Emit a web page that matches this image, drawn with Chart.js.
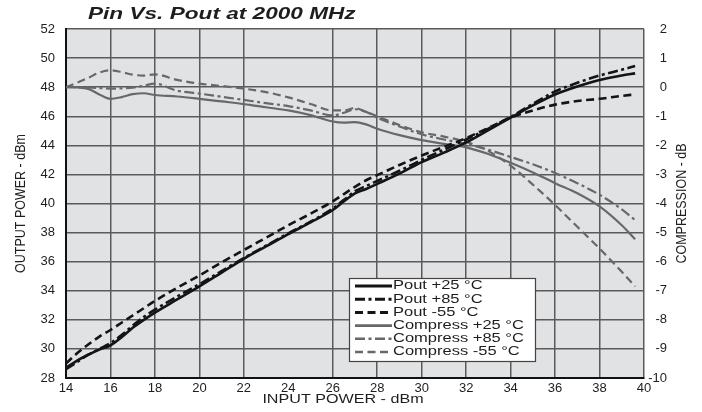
<!DOCTYPE html>
<html><head><meta charset="utf-8">
<script src="https://cdn.jsdelivr.net/npm/chart.js@4.4.1/dist/chart.umd.min.js"></script>
<style>html,body{margin:0;padding:0;background:#fff;overflow:hidden}#wrap{width:702px;height:412px;position:relative}</style>
</head><body><div id="wrap"><canvas id="c" width="702" height="412"></canvas></div>
<script>
// ---- data ----
const inputPower = [14,14.5,15,15.5,16,16.5,17,17.5,18,19,20,21,22,23,24,25,26,26.5,27,27.5,28,29,30,31,32,33,34,35,36,37,38,39,39.6];
const poutP25 = [28.7,29.2,29.6,29.95,30.25,30.8,31.45,32.0,32.5,33.4,34.3,35.25,36.2,37.05,37.9,38.7,39.55,40.15,40.7,41.0,41.35,42.05,42.85,43.5,44.2,45.05,45.9,46.75,47.5,48.05,48.5,48.8,48.95];
const poutP85 = [28.6,29.1,29.6,30.0,30.4,30.95,31.6,32.2,32.7,33.6,34.45,35.35,36.25,37.1,37.95,38.75,39.65,40.25,40.85,41.2,41.55,42.25,43.0,43.7,44.4,45.15,45.95,46.85,47.7,48.3,48.8,49.2,49.45];
const poutM55 = [29.0,29.7,30.3,30.85,31.3,31.8,32.3,32.8,33.3,34.2,35.05,35.95,36.8,37.65,38.5,39.3,40.15,40.65,41.15,41.6,41.95,42.65,43.3,43.9,44.5,45.2,45.9,46.4,46.8,47.05,47.2,47.4,47.5];
const compP25 = [0,-0.01,-0.06,-0.25,-0.4,-0.34,-0.24,-0.21,-0.27,-0.32,-0.4,-0.49,-0.58,-0.69,-0.8,-0.96,-1.18,-1.22,-1.2,-1.28,-1.43,-1.65,-1.82,-1.95,-2.07,-2.3,-2.6,-2.93,-3.3,-3.65,-4.1,-4.75,-5.23];
const compP85 = [0,0,-0.01,-0.03,-0.05,-0.04,-0.02,0.05,0.12,-0.12,-0.22,-0.33,-0.44,-0.55,-0.65,-0.8,-0.97,-0.88,-0.76,-0.85,-1.05,-1.35,-1.62,-1.8,-1.95,-2.15,-2.4,-2.65,-2.95,-3.3,-3.7,-4.2,-4.57];
const compM55 = [0,0.15,0.32,0.5,0.58,0.52,0.43,0.4,0.44,0.25,0.12,0.04,-0.05,-0.17,-0.35,-0.58,-0.8,-0.8,-0.72,-0.85,-1.0,-1.3,-1.55,-1.7,-1.88,-2.2,-2.7,-3.35,-4.05,-4.8,-5.55,-6.35,-6.85];
const seriesLabels = ['Pout +25 \u00B0C','Pout +85 \u00B0C','Pout -55 \u00B0C','Compress +25 \u00B0C','Compress +85 \u00B0C','Compress -55 \u00B0C'];
const xRange = [14, 40];      // INPUT POWER ticks 14..40 step 2
const leftRange = [28, 52];   // OUTPUT POWER ticks 28..52 step 2
const rightRange = [-10, 2];  // COMPRESSION ticks -10..2 step 1
const titleText = 'Pin Vs. Pout at 2000 MHz';
const xTitle = 'INPUT POWER - dBm';
const yTitle = 'OUTPUT POWER - dBm';
const y2Title = 'COMPRESSION - dB';

const FAM = '"Liberation Sans", Arial, Helvetica, sans-serif';
const BLACK = '#141414', GRAY = '#686868', GRID = '#5a5a5a', TXT = '#1e1e1e';
const DASH = [8, 4.5], DASHDOT = [10, 3.5, 3, 3.5];

const pts = arr => inputPower.map((x, i) => ({x, y: arr[i]}));
function ds(label, arr, color, width, dash, axis) {
  return {label, data: pts(arr), borderColor: color, borderWidth: width, borderDash: dash,
    yAxisID: axis, pointRadius: 0, fill: false, cubicInterpolationMode: 'monotone', tension: 0.4};
}

function stretchedText(ctx, text, x, y, font, align, rotate, sx) {
  ctx.save();
  ctx.translate(x, y);
  ctx.scale(sx, 1);
  if (rotate) ctx.rotate(-Math.PI / 2);
  ctx.font = font; ctx.fillStyle = TXT; ctx.textAlign = align; ctx.textBaseline = 'middle';
  ctx.fillText(text, 0, 0);
  ctx.restore();
}

const decor = {
  id: 'decor',
  beforeDraw(chart) {
    const {ctx, chartArea: a} = chart;
    ctx.save(); ctx.fillStyle = '#e1e2e4'; ctx.fillRect(a.left, a.top, a.right - a.left, a.bottom - a.top); ctx.restore();
  },
  afterDraw(chart) {
    const {ctx, chartArea: a} = chart;
    // titles
    stretchedText(ctx, titleText, 88, 14, 'italic bold 17px ' + FAM, 'left', false, 1.33);
    stretchedText(ctx, xTitle, (a.left + a.right) / 2 - 12, 399, '13px ' + FAM, 'center', false, 1.24);
    stretchedText(ctx, yTitle, 21, (a.top + a.bottom) / 2, '12.5px ' + FAM, 'center', true, 1.22);
    stretchedText(ctx, y2Title, 682, (a.top + a.bottom) / 2, '12.5px ' + FAM, 'center', true, 1.22);
    // legend
    const bx = 349, by = 278, bw = 186, bh = 83;
    ctx.save();
    ctx.fillStyle = '#fff'; ctx.fillRect(bx, by, bw, bh);
    ctx.strokeStyle = '#444'; ctx.lineWidth = 1.2; ctx.strokeRect(bx + 0.5, by + 0.5, bw, bh);
    chart.data.datasets.forEach((d, i) => {
      const yy = by + 8 + i * 13.2;
      ctx.beginPath(); ctx.setLineDash(d.borderDash || []);
      ctx.strokeStyle = d.borderColor; ctx.lineWidth = d.borderWidth + 0.4;
      ctx.moveTo(355, yy); ctx.lineTo(392, yy); ctx.stroke();
      ctx.setLineDash([]);
      stretchedText(ctx, d.label, 393, yy, '12.5px ' + FAM, 'left', false, 1.32);
    });
    ctx.restore();
  }
};

new Chart(document.getElementById('c'), {
  type: 'line',
  data: {datasets: [
    ds(seriesLabels[0], poutP25, BLACK, 2.6, [], 'y'),
    ds(seriesLabels[1], poutP85, BLACK, 2.6, DASHDOT, 'y'),
    ds(seriesLabels[2], poutM55, BLACK, 2.6, DASH, 'y'),
    ds(seriesLabels[3], compP25, GRAY, 2.2, [], 'y2'),
    ds(seriesLabels[4], compP85, GRAY, 2.2, DASHDOT, 'y2'),
    ds(seriesLabels[5], compM55, GRAY, 2.2, DASH, 'y2')
  ]},
  options: {
    responsive: false, animation: false, devicePixelRatio: 1,
    layout: {padding: {left: 0, right: 35, top: 29, bottom: 14}},
    plugins: {legend: {display: false}, title: {display: false}, tooltip: {enabled: false}},
    scales: {
      x: {type: 'linear', min: xRange[0], max: xRange[1],
        ticks: {stepSize: 2, font: {family: FAM, size: 13}, color: TXT, padding: 3, maxRotation: 0, autoSkip: false},
        grid: {color: c => (c.tick && c.tick.value === 24) ? 'rgba(0,0,0,0)' : GRID, lineWidth: 1.5, drawTicks: false},
        border: {color: '#111', width: 2},
        afterFit: s => { s.height = 20; }
      },
      y: {position: 'left', min: leftRange[0], max: leftRange[1],
        ticks: {stepSize: 2, font: {family: FAM, size: 13}, color: TXT, padding: 11},
        grid: {color: GRID, lineWidth: 1.5, drawTicks: false},
        border: {color: '#111', width: 2},
        afterFit: s => { s.width = 66; }
      },
      y2: {position: 'right', min: rightRange[0], max: rightRange[1],
        ticks: {stepSize: 1, font: {family: FAM, size: 13}, color: TXT, crossAlign: 'far', padding: 0},
        grid: {drawOnChartArea: false, drawTicks: false},
        border: {display: false},
        afterFit: s => { s.width = 23; }
      }
    }
  },
  plugins: [decor]
});
</script></body></html>
